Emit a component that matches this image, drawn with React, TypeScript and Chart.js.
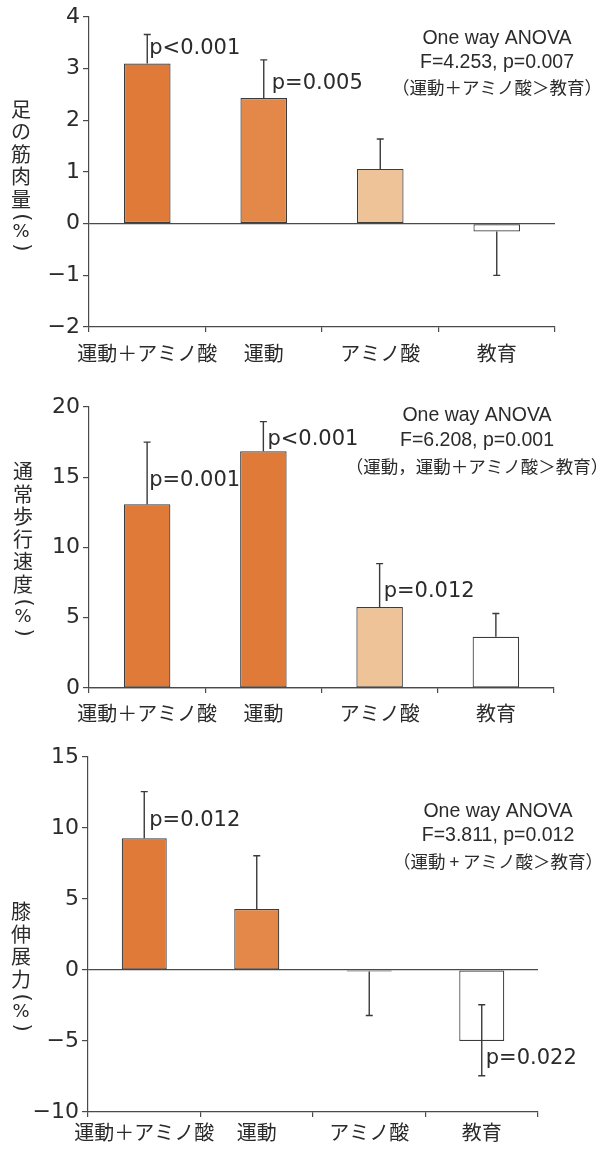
import React, { useEffect, useRef } from 'react';
import { Chart, registerables } from 'chart.js';

Chart.register(...registerables);

const categories = ['運動＋アミノ酸', '運動', 'アミノ酸', '教育'];

// Panel 1: 足の筋肉量
const muscleValues = [3.1, 2.43, 1.06, -0.15];
const muscleErrHigh = [3.66, 3.17, 1.64, -0.15];
const muscleErrLow = [3.1, 2.43, 1.06, -1.0];
const muscleTicks = [-2, -1, 0, 1, 2, 3, 4];
const musclePLabels = ['p<0.001', 'p=0.005'];
const musclePIndex = [0, 1];
const musclePY = [3.38, 2.72];
const muscleAnova = ['One way ANOVA', 'F=4.253, p=0.007', '（運動＋アミノ酸＞教育）'];
const muscleTitle = ['足', 'の', '筋', '肉', '量', '(', '%', ')'];

// Panel 2: 通常歩行速度
const gaitValues = [13.07, 16.85, 5.77, 3.64];
const gaitErrHigh = [17.5, 18.96, 8.85, 5.3];
const gaitErrLow = [13.07, 16.85, 5.77, 3.64];
const gaitTicks = [0, 5, 10, 15, 20];
const gaitPLabels = ['p=0.001', 'p<0.001', 'p=0.012'];
const gaitPIndex = [0, 1, 2];
const gaitPY = [14.77, 17.7, 6.84];
const gaitAnova = ['One way ANOVA', 'F=6.208, p=0.001', '（運動，運動＋アミノ酸＞教育）'];
const gaitTitle = ['通', '常', '歩', '行', '速', '度', '(', '%', ')'];

// Panel 3: 膝伸展力
const kneeValues = [9.27, 4.3, -0.1, -5.0];
const kneeErrHigh = [12.56, 8.05, -0.1, -2.45];
const kneeErrLow = [9.27, 4.3, -3.2, -7.45];
const kneeTicks = [-10, -5, 0, 5, 10, 15];
const kneePLabels = ['p=0.012', 'p=0.022'];
const kneePIndex = [0, 3];
const kneePY = [10.5, -6.27];
const kneeAnova = ['One way ANOVA', 'F=3.811, p=0.012', '（運動 + アミノ酸＞教育）'];
const kneeTitle = ['膝', '伸', '展', '力', '(', '%', ')'];

const ORANGE = '#E07A38';
const ORANGE_LIGHT = '#E4884A';
const TAN = '#EDC397';
const WHITE = '#FFFFFF';
const INK = '#2b2b2b';
const LINE = '#4a4a4a';

type Panel = {
  top: number; height: number; axisWidth: number; padTop: number; padRight: number;
  xAxisHeight: number; labelPad: number;
  values: number[]; errHigh: number[]; errLow: number[]; ticks: number[]; colors: string[];
  pLabels: string[]; pIndex: number[]; pY: number[]; pDx: number[];
  anova: string[]; anovaX: number; anovaY: number[];
  title: string[]; titleX: number; titleY: number;
};

const panels: Panel[] = [
  {
    top: 0, height: 370, axisWidth: 89, padTop: 17, padRight: 59, xAxisHeight: 43, labelPad: 9,
    values: muscleValues, errHigh: muscleErrHigh, errLow: muscleErrLow, ticks: muscleTicks,
    colors: [ORANGE, ORANGE_LIGHT, TAN, WHITE],
    pLabels: musclePLabels, pIndex: musclePIndex, pY: musclePY, pDx: [2, 8],
    anova: muscleAnova, anovaX: 497, anovaY: [39, 63, 87],
    title: muscleTitle, titleX: 21, titleY: 176,
  },
  {
    top: 370, height: 365, axisWidth: 89, padTop: 37, padRight: 60, xAxisHeight: 47, labelPad: 8,
    values: gaitValues, errHigh: gaitErrHigh, errLow: gaitErrLow, ticks: gaitTicks,
    colors: [ORANGE, ORANGE, TAN, WHITE],
    pLabels: gaitPLabels, pIndex: gaitPIndex, pY: gaitPY, pDx: [2, 4, 4],
    anova: gaitAnova, anovaX: 477, anovaY: [46, 71, 96],
    title: gaitTitle, titleX: 23, titleY: 180,
  },
  {
    top: 735, height: 414, axisWidth: 88, padTop: 22, padRight: 76, xAxisHeight: 37, labelPad: 3,
    values: kneeValues, errHigh: kneeErrHigh, errLow: kneeErrLow, ticks: kneeTicks,
    colors: [ORANGE, ORANGE_LIGHT, TAN, WHITE],
    pLabels: kneePLabels, pIndex: kneePIndex, pY: kneePY, pDx: [5, 4],
    anova: kneeAnova, anovaX: 498, anovaY: [76.5, 101, 126],
    title: kneeTitle, titleX: 21, titleY: 232.5,
  },
];

function overlayPlugin(cfg: Panel) {
  return {
    id: 'overlay',
    afterDatasetsDraw(chart: any) {
      const ctx = chart.ctx as CanvasRenderingContext2D;
      const y = chart.scales.y;
      const meta = chart.getDatasetMeta(0);
      ctx.save();
      // error bars
      ctx.strokeStyle = '#3a3a3a';
      ctx.lineWidth = 1.4;
      meta.data.forEach((bar: any, i: number) => {
        const x = bar.x;
        const v = y.getPixelForValue(cfg.values[i]);
        [cfg.errHigh[i], cfg.errLow[i]].forEach((e) => {
          if (e === cfg.values[i]) return;
          const p = y.getPixelForValue(e);
          ctx.beginPath();
          ctx.moveTo(x, v);
          ctx.lineTo(x, p);
          ctx.moveTo(x - 3.5, p);
          ctx.lineTo(x + 3.5, p);
          ctx.stroke();
        });
      });
      // p-value labels
      ctx.fillStyle = INK;
      ctx.font = '21px "DejaVu Sans"';
      ctx.textAlign = 'left';
      ctx.textBaseline = 'middle';
      cfg.pLabels.forEach((t, k) => {
        const bar = meta.data[cfg.pIndex[k]];
        ctx.fillText(t, bar.x + cfg.pDx[k], y.getPixelForValue(cfg.pY[k]));
      });
      // ANOVA block
      ctx.textAlign = 'center';
      ctx.font = '19.5px "Liberation Sans"';
      ctx.fillText(cfg.anova[0], cfg.anovaX, cfg.anovaY[0]);
      ctx.fillText(cfg.anova[1], cfg.anovaX, cfg.anovaY[1]);
      ctx.font = '17.5px "Noto Sans CJK JP"';
      ctx.fillText(cfg.anova[2], cfg.anovaX, cfg.anovaY[2]);
      // vertical axis title
      const adv = (c: string) => (c === '(' || c === ')' ? 14 : c === '%' ? 16 : 22.5);
      const total = cfg.title.reduce((s, c) => s + adv(c), 0);
      let cur = cfg.titleY - total / 2;
      cfg.title.forEach((c) => {
        const a = adv(c);
        const cy = cur + a / 2;
        if (c === '(' || c === ')') {
          ctx.save();
          ctx.translate(cfg.titleX, cy);
          ctx.rotate(Math.PI / 2);
          ctx.font = '21px "DejaVu Sans"';
          ctx.fillText(c, 0, 0);
          ctx.restore();
        } else if (c === '%') {
          ctx.font = '18px "DejaVu Sans"';
          ctx.fillText(c, cfg.titleX, cy);
        } else {
          ctx.font = '20px "Noto Sans CJK JP"';
          ctx.fillText(c, cfg.titleX, cy);
        }
        cur += a;
      });
      ctx.restore();
    },
  };
}

function BarPanel({ cfg }: { cfg: Panel }) {
  const ref = useRef<HTMLCanvasElement | null>(null);
  useEffect(() => {
    if (!ref.current) return;
    const ticks = cfg.ticks;
    const chart = new Chart(ref.current, {
      type: 'bar',
      data: {
        labels: categories,
        datasets: [
          {
            data: cfg.values,
            backgroundColor: cfg.colors,
            borderColor: '#3c3c3c',
            borderWidth: 1.2,
            borderSkipped: false,
            barPercentage: 0.4,
            categoryPercentage: 1.0,
          },
        ],
      },
      options: {
        responsive: false,
        animation: false,
        events: [],
        layout: { padding: { top: cfg.padTop, right: cfg.padRight, left: 0, bottom: 0 } },
        plugins: { legend: { display: false }, tooltip: { enabled: false }, title: { display: false } },
        scales: {
          x: {
            type: 'category',
            offset: true,
            grid: { offset: true, drawOnChartArea: false, drawTicks: true, tickLength: 5, color: LINE, lineWidth: 1.2 },
            border: { color: LINE, width: 1.2 },
            ticks: {
              font: { family: '"Noto Sans CJK JP"', size: 20 },
              color: INK,
              padding: cfg.labelPad,
              maxRotation: 0,
              autoSkip: false,
            },
            afterFit: (s: any) => { s.height = cfg.xAxisHeight; },
          } as any,
          y: {
            min: ticks[0],
            max: ticks[ticks.length - 1],
            afterBuildTicks: (s: any) => { s.ticks = ticks.map((v) => ({ value: v })); },
            grid: {
              color: (c: any) => (c.tick && c.tick.value === 0 ? LINE : 'rgba(0,0,0,0)'),
              tickColor: LINE,
              tickLength: 6,
              lineWidth: 1.2,
              drawTicks: true,
            },
            border: { color: LINE, width: 1.2 },
            ticks: {
              font: { family: '"DejaVu Sans"', size: 22 },
              color: INK,
              padding: 3,
              callback: (v: any) => (Number(v) < 0 ? '\u2212' + Math.abs(Number(v)) : String(v)),
            },
            afterFit: (s: any) => { s.width = cfg.axisWidth; },
          } as any,
        },
      },
      plugins: [overlayPlugin(cfg)],
    } as any);
    return () => chart.destroy();
  }, [cfg]);
  return (
    <canvas
      ref={ref}
      width={614}
      height={cfg.height}
      style={{ position: 'absolute', left: 0, top: cfg.top, width: 614, height: cfg.height }}
    />
  );
}

export default function App() {
  return (
    <div style={{ position: 'absolute', left: 0, top: 0, width: 614, height: 1149, background: '#ffffff' }}>
      {panels.map((p, i) => (
        <BarPanel key={i} cfg={p} />
      ))}
    </div>
  );
}
